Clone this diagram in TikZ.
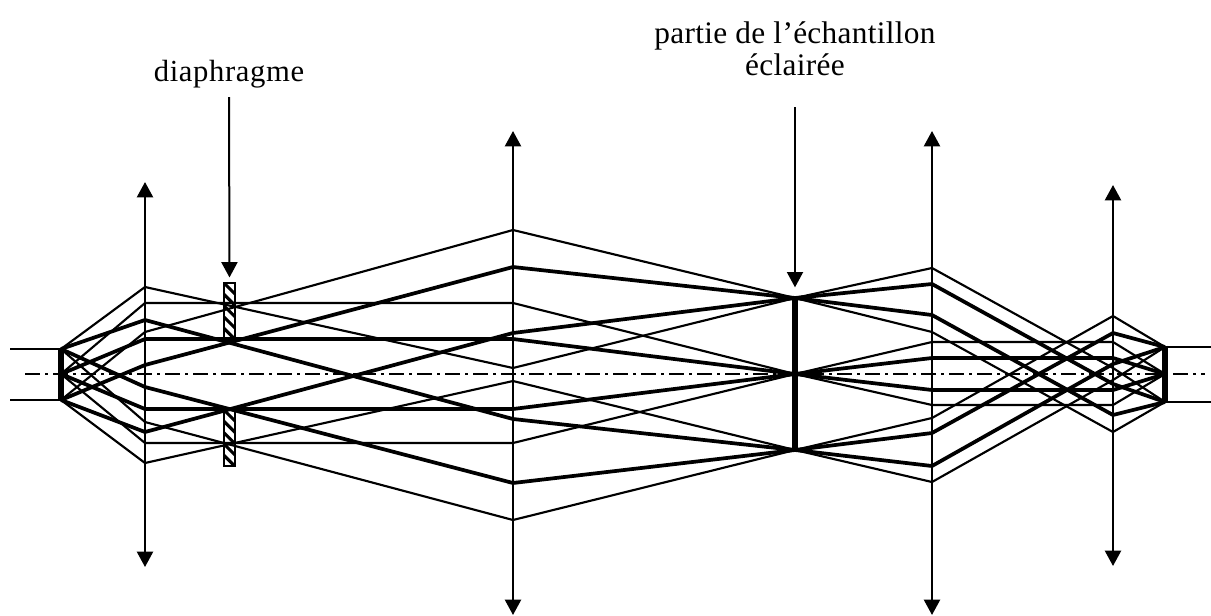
\documentclass[tikz,border=0pt]{standalone}
\usepackage{fontspec}
\setmainfont{Liberation Serif}
\newfontfamily\spacedfont[LetterSpace=2]{Liberation Serif}
\newfontfamily\labelfont[LetterSpace=1]{Liberation Serif}
\usetikzlibrary{arrows.meta}
\begin{document}
\begin{tikzpicture}[x=0.75pt,y=-0.75pt,
  thinray/.style={line width=1.6pt, line join=round},
  thickray/.style={line width=2.8pt, line join=round},
  lensarrow/.style={line width=1.7pt, {Triangle[length=11.5pt,width=12pt]}-{Triangle[length=11.5pt,width=12pt]}},
  pointer/.style={line width=1.5pt, -{Triangle[length=11.5pt,width=12pt]}},
  axisline/.style={line width=2.1pt, dash pattern=on 11.5pt off 3.5pt on 2.5pt off 3.5pt},
  barline/.style={line width=3.8pt},
  txt/.style={inner sep=0pt, anchor=base, font=\labelfont\fontsize{23.5pt}{28pt}\selectfont},
  diabox/.style={draw, line width=1.3pt, minimum width=8.25pt, minimum height=42pt, inner sep=0pt,
    path picture={
      \foreach \k in {-4,...,4}
        \draw[line width=2.3pt] ([yshift=\k*8.5pt]path picture bounding box.west) ++(-1pt,5pt) -- ++(10.5pt,-10.5pt);
    }}
]
\useasboundingbox (0,0) rectangle (1211,615);

% key points
\coordinate (SA) at (61,349);
\coordinate (SC) at (61,374);
\coordinate (SB) at (61,400);
\coordinate (PT) at (795,298);
\coordinate (PC) at (795,374);
\coordinate (PB) at (795,450);
\coordinate (QT) at (1165,347);
\coordinate (QC) at (1165,374);
\coordinate (QB) at (1165,402);
\coordinate (inT) at (10,349);
\coordinate (inB) at (10,400);
\coordinate (outT) at (1211,347);
\coordinate (outB) at (1211,402);
\coordinate (axL) at (25,374);
\coordinate (axR) at (1205,374);

% axis
\draw[axisline] (axL) -- (axR);

% incoming / outgoing beam edges
\draw[thinray] (inT) -- (SA);
\draw[thinray] (inB) -- (SB);
\draw[thinray] (QT) -- (outT);
\draw[thinray] (QB) -- (outB);

% rays, left half
\foreach \s/\a/\b/\t in {SC/303/303/PC, SC/443/443/PC, SA/287/368/PT, SA/422/520/PB, SB/332/230/PT, SB/463/381/PB}
  \draw[thinray] (\s) -- (145,\a) -- (513,\b) -- (\t);
\foreach \s/\a/\b/\t in {SC/339/339/PC, SC/409/409/PC, SA/320/419/PB, SA/387/483/PB, SB/365/267/PT, SB/432/333/PT}
  \draw[thickray] (\s) -- (145,\a) -- (513,\b) -- (\t);

% rays, right half
\foreach \s/\a/\b/\t in {PT/268/368/QB, PT/332/432/QB, PC/342/342/QC, PC/405/405/QC, PB/418/316/QT, PB/482/380/QT}
  \draw[thinray] (\s) -- (932,\a) -- (1113,\b) -- (\t);
\foreach \s/\a/\b/\t in {PT/284/384/QB, PT/315/415/QB, PC/358/358/QC, PC/390/390/QC, PB/433/333/QT, PB/466/364/QT}
  \draw[thickray] (\s) -- (932,\a) -- (1113,\b) -- (\t);

% source, sample and image bars
\draw[barline] ([yshift=1pt]SA) -- ([yshift=-1pt]SB);
\draw[barline] (PT) -- (PB);
\draw[barline] ([yshift=1pt]QT) -- ([yshift=-1pt]QB);

% lenses
\coordinate (L1t) at (145,182); \coordinate (L1b) at (145,567);
\coordinate (L2t) at (513,131); \coordinate (L2b) at (513,615);
\coordinate (L3t) at (932,131); \coordinate (L3b) at (932,615);
\coordinate (L4t) at (1113,185); \coordinate (L4b) at (1113,566);
\draw[lensarrow] (L1b) -- (L1t);
\draw[lensarrow] (L2b) -- (L2t);
\draw[lensarrow] (L3b) -- (L3t);
\draw[lensarrow] (L4b) -- (L4t);

% diaphragm
\node[diabox] (diaTop) at (229.5,311) {};
\node[diabox] (diaBot) at (229.5,438) {};

% labels
\node[txt, font=\spacedfont\fontsize{23pt}{28pt}\selectfont] (diaLabel) at (229,81) {diaphragme};
\node[txt] (sampLabelA) at (795,43) {partie de l’échantillon};
\node[txt] (sampLabelB) at (795,75) {éclairée};

\coordinate (dpS) at (229,97);
\coordinate (spS) at (795,107);
\draw[pointer] (dpS) -- ([yshift=3.5pt]diaTop.north);
\draw[pointer] (spS) -- ([yshift=8pt]PT);
\end{tikzpicture}
\end{document}
